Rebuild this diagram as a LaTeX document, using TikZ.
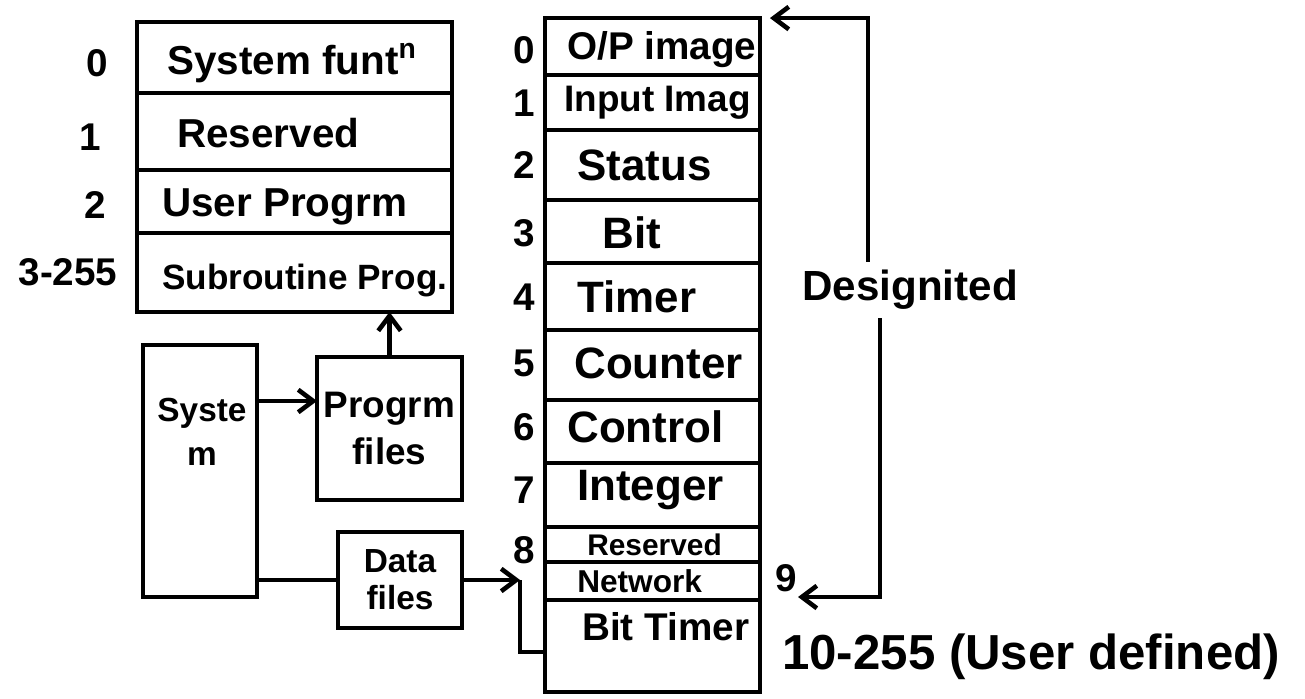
\documentclass[tikz,border=0pt]{standalone}
\usepackage{fontspec}
\setmainfont{Liberation Sans}
\usetikzlibrary{arrows.meta}
\newcommand{\hand}[1]{\fontsize{#1}{#1}\selectfont\bfseries}
\begin{document}
\begin{tikzpicture}[x=0.02cm, y=-0.02cm, line width=2.6pt,
  box/.style={draw, inner sep=0pt, outer sep=0pt},
  rowtxt/.style={anchor=west, inner sep=0pt, font=\hand{23}},
  idx/.style={inner sep=0pt, font=\hand{22}},
  arr/.style={-{Straight Barb[length=3mm,width=4.5mm]}}]
  \useasboundingbox (0,0) rectangle (1305,699);
  % program memory
  \node[box, minimum width=6.3cm, minimum height=5.8cm] (ltab) at (294.5,167) {};
  \foreach \y in {93,170,233}
    \draw (137,\y) -- (452,\y);
  \node[rowtxt] (sysfn) at (165,63) {System funt\textsuperscript{n}};
  \node[rowtxt] (resv) at (175,133) {Reserved};
  \node[rowtxt] (userp) at (160,207) {User Progrm};
  \node[rowtxt, font=\hand{20}] (subp) at (160,280) {Subroutine Prog.};
  \node[idx] (l0) at (97,63) {0};
  \node[idx] (l1) at (90,137) {1};
  \node[idx] (l2) at (95,205) {2};
  \node[idx] (l3) at (68,272) {3-255};
  % data files
  \node[box, minimum width=4.3cm, minimum height=13.48cm] (rtab) at (652.5,355) {};
  \foreach \y in {75,130,200,263,330,400,463,527,562,600}
    \draw (545,\y) -- (760,\y);
  \foreach \n/\y in {0/50,1/103,2/165,3/233,4/297,5/363,6/427,7/490,8/550}
    \node[idx] (r\n) at (524,\y) {\n};
  \node[rowtxt, font=\hand{22}] (opimg) at (565,50) {O/P image};
  \node[rowtxt, font=\hand{21}] (inimg) at (562,103) {Input Imag};
  \node[rowtxt, font=\hand{25}] (stat) at (575,165) {Status};
  \node[rowtxt, font=\hand{25}] (bit) at (600,233) {Bit};
  \node[rowtxt, font=\hand{25}] (timer) at (575,297) {Timer};
  \node[rowtxt, font=\hand{25}] (count) at (572,363) {Counter};
  \node[rowtxt, font=\hand{25}] (ctrl) at (565,427) {Control};
  \node[rowtxt, font=\hand{25}] (intg) at (575,490) {Integer};
  \node[rowtxt, font=\hand{17}] (resv2) at (585,545) {Reserved};
  \node[rowtxt, font=\hand{18}] (netw) at (575,581) {Network};
  \node[rowtxt, font=\hand{22}] (btimer) at (580,627) {Bit Timer};
  % system and files
  \node[box, minimum width=2.28cm, minimum height=5.04cm] (sys) at (200,471) {};
  \node[idx, align=center, font=\hand{19}] (systxt) at (202,432) {Syste\\[6pt]m};
  \node[box, minimum width=2.9cm, minimum height=2.86cm, align=center, font=\hand{21}] (prog) at (389.5,428.5) {Progrm\\[6pt]files};
  \node[box, minimum width=2.48cm, minimum height=1.92cm, align=center, font=\hand{19}] (data) at (400,580) {Data\\[2pt]files};
  \path (sys.east) ++(0,-70) coordinate (sysout);
  \draw[arr] (sysout) -- (sysout -| prog.west);
  \draw[arr] (prog.north) -- (prog.north |- ltab.south);
  \draw (sys.east |- data.west) -- (data.west);
  \coordinate (brk) at (520,580);
  \coordinate (btm) at (545,652);
  \draw[arr] (data.east) -- (brk);
  \draw (brk) |- (btm);
  % designated
  \node[rowtxt, font=\hand{24}] (desig) at (800,290) {Designited};
  \node[rowtxt, font=\hand{28}] (user) at (780,657) {10-255 (User defined)};
  \node[idx] (nine) at (786,578) {9};
  \coordinate (uptop) at (868,262);
  \coordinate (upbot) at (880,318);
  \coordinate (netin) at (798,597);
  \draw[arr] (uptop) |- ([xshift=0.2cm]rtab.north east);
  \draw[arr] (upbot) |- (netin);
\end{tikzpicture}
\end{document}
